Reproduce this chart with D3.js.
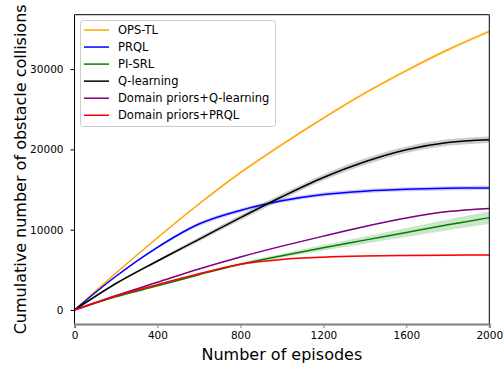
<!DOCTYPE html>
<html>
<head>
<meta charset="utf-8">
<script src="https://cdn.jsdelivr.net/npm/d3@7"></script>
<style>
  html, body { margin: 0; padding: 0; background: #fff; }
  svg { display: block; font-family: "DejaVu Sans", sans-serif; }
</style>
</head>
<body>
<svg id="chart" width="504" height="367"></svg>
<script>
// Episodes at which the cumulative collision counts were sampled
const episodes = [0, 200, 400, 600, 800, 1000, 1200, 1400, 1600, 1800, 2000];

// Mean cumulative collisions per method
const opsTL        = [0, 4600, 9000, 13200, 17100, 20600, 23900, 27000, 29800, 32400, 34700];
const prql         = [0, 4200, 7800, 10700, 12400, 13600, 14380, 14800, 15030, 15150, 15200];
const piSRL        = [0, 1650, 3000, 4400, 5700, 6750, 7750, 8700, 9650, 10600, 11500];
const qLearning    = [0, 3300, 6100, 8800, 11500, 14100, 16500, 18450, 19950, 20850, 21200];
const dpQLearning  = [0, 1800, 3450, 5100, 6600, 7950, 9200, 10400, 11450, 12250, 12650];
const dpPRQL       = [0, 1750, 3150, 4500, 5700, 6300, 6580, 6720, 6790, 6830, 6860];

// Half-width of the shaded spread around each mean
const opsTLSpread       = [0, 80, 120, 150, 170, 180, 190, 200, 210, 220, 230];
const prqlSpread        = [0, 100, 180, 230, 250, 260, 260, 260, 260, 260, 260];
const piSRLSpread       = [0, 40, 80, 120, 170, 250, 340, 440, 550, 660, 760];
const qLearningSpread   = [0, 120, 200, 260, 320, 360, 380, 400, 400, 400, 400];
const dpQLearningSpread = [0, 40, 60, 70, 80, 80, 80, 80, 80, 80, 80];
const dpPRQLSpread      = [0, 50, 70, 90, 100, 100, 100, 100, 100, 100, 100];

const seriesNames  = ["OPS-TL", "PRQL", "PI-SRL", "Q-learning", "Domain priors+Q-learning", "Domain priors+PRQL"];
const seriesColors = ["orange", "blue", "green", "black", "purple", "red"];
const seriesValues = [opsTL, prql, piSRL, qLearning, dpQLearning, dpPRQL];
const seriesSpread = [opsTLSpread, prqlSpread, piSRLSpread, qLearningSpread, dpQLearningSpread, dpPRQLSpread];

const xTicks = [0, 400, 800, 1200, 1600, 2000];
const yTicks = [0, 10000, 20000, 30000];

const svg = d3.select("#chart");
const plot = { left: 74.5, right: 489.3, top: 14.7, bottom: 324 };

const x = d3.scaleLinear().domain([0, 2000]).range([plot.left, plot.right]);
const y = d3.scaleLinear().domain([-1745, 36770]).range([plot.bottom, plot.top]);

svg.append("defs").append("clipPath").attr("id", "plot-clip")
  .append("rect")
  .attr("x", plot.left).attr("y", plot.top)
  .attr("width", plot.right - plot.left).attr("height", plot.bottom - plot.top);

const layer = svg.append("g").attr("clip-path", "url(#plot-clip)");

const smooth = d3.curveCatmullRom.alpha(0.5);
const line = d3.line().x(d => x(d.e)).y(d => y(d.v)).curve(smooth);
const area = d3.area().x(d => x(d.e)).y0(d => y(d.v - d.s)).y1(d => y(d.v + d.s)).curve(smooth);

seriesNames.forEach((name, i) => {
  const pts = episodes.map((e, k) => ({ e, v: seriesValues[i][k], s: seriesSpread[i][k] }));
  layer.append("path").datum(pts)
    .attr("d", area)
    .attr("fill", seriesColors[i])
    .attr("fill-opacity", 0.2)
    .attr("stroke", "none");
  layer.append("path").datum(pts)
    .attr("d", line)
    .attr("fill", "none")
    .attr("stroke", seriesColors[i])
    .attr("stroke-width", 1.5);
});

// Frame: black left/top/right, gray bottom
svg.append("line").attr("x1", plot.left).attr("x2", plot.left).attr("y1", plot.top).attr("y2", plot.bottom)
  .attr("stroke", "#000").attr("stroke-width", 1);
svg.append("line").attr("x1", plot.left).attr("x2", plot.right).attr("y1", plot.top).attr("y2", plot.top)
  .attr("stroke", "#000").attr("stroke-width", 1);
svg.append("line").attr("x1", plot.right).attr("x2", plot.right).attr("y1", plot.top).attr("y2", plot.bottom)
  .attr("stroke", "#000").attr("stroke-width", 1);

// Axes
const xAxis = d3.axisBottom(x).tickValues(xTicks).tickSize(4).tickPadding(4).tickFormat(d3.format("d"));
const gx = svg.append("g").attr("transform", `translate(0,${plot.bottom})`).call(xAxis);
gx.select(".domain").attr("stroke", "#808080").attr("stroke-width", 2);
gx.selectAll(".tick line").attr("stroke", "#808080");
gx.selectAll(".tick text").attr("fill", "#000").style("font-size", "10.5px").style("font-family", "DejaVu Sans");

const yAxis = d3.axisLeft(y).tickValues(yTicks).tickSize(4).tickPadding(7).tickFormat(d3.format("d"));
const gy = svg.append("g").attr("transform", `translate(${plot.left},0)`).call(yAxis);
gy.select(".domain").remove();
gy.selectAll(".tick line").attr("stroke", "#000");
gy.selectAll(".tick text").attr("fill", "#000").style("font-size", "10.5px").style("font-family", "DejaVu Sans");

// Axis titles
svg.append("text")
  .attr("x", (plot.left + plot.right) / 2).attr("y", 359.5)
  .attr("text-anchor", "middle")
  .style("font-size", "16px")
  .text("Number of episodes");

svg.append("text")
  .attr("transform", `translate(25.5,${(plot.top + plot.bottom) / 2}) rotate(-90)`)
  .attr("text-anchor", "middle")
  .style("font-size", "16px")
  .text("Cumulative number of obstacle collisions");

// Legend
const legend = svg.append("g");
legend.append("rect")
  .attr("x", 80.5).attr("y", 20.5).attr("width", 195).attr("height", 106)
  .attr("rx", 3).attr("ry", 3)
  .attr("fill", "#fff").attr("fill-opacity", 0.8)
  .attr("stroke", "#cccccc").attr("stroke-width", 1);

seriesNames.forEach((name, i) => {
  const cy = 30 + i * 17.05;
  legend.append("line")
    .attr("x1", 84).attr("x2", 109).attr("y1", cy).attr("y2", cy)
    .attr("stroke", seriesColors[i]).attr("stroke-width", 1.5);
  legend.append("text")
    .attr("x", 118).attr("y", cy).attr("dy", "0.36em")
    .style("font-size", "11.5px")
    .text(name);
});
</script>
</body>
</html>
